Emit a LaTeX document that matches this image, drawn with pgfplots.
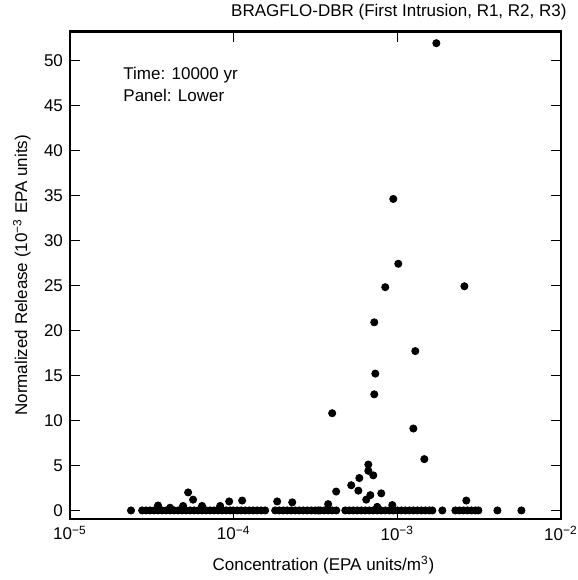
\documentclass[border=0pt]{standalone}
\usepackage{fontspec}
\setmainfont{Liberation Sans}
\usepackage{pgfplots}
\pgfplotsset{compat=1.18}
\begin{document}
\begin{tikzpicture}
\begin{axis}[
  scale only axis, width=245.5pt, height=243.75pt,
  xmode=log, log basis x=10,
  xmin=1e-5, xmax=1e-2, ymin=-0.95, ymax=53.2,
  xtick={1e-5,1e-4,1e-3,1e-2},
  xticklabels={10\textsuperscript{−5},10\textsuperscript{−4},10\textsuperscript{−3},10\textsuperscript{−2}},
  ytick={0,5,...,50},
  /pgf/number format/assume math mode=true,
  tick align=inside, major tick length=5pt, minor tick length=2.5pt,
  axis line style={line width=1.4pt},
  every tick/.style={black, line width=0.8pt},
  tick label style={font=\fontsize{8.5}{10}\selectfont},
  label style={font=\fontsize{8.5}{10}\selectfont},
  xlabel={Concentration (EPA units/m\textsuperscript{3})},
  ylabel={Normalized Release (10\textsuperscript{−3} EPA units)},
  xlabel style={at={(axis description cs:0.5,0)}, anchor=base, yshift=-25.5pt, xshift=4pt},
  ylabel style={at={(axis description cs:-0.098,0.5)}, anchor=center},
  title={BRAGFLO-DBR (First Intrusion, R1, R2, R3)},
  title style={at={(axis description cs:1,1)}, anchor=base east, xshift=6.3pt, yshift=1.5pt, font=\fontsize{8.5}{10}\selectfont},
  clip=false,
]
% points above the baseline
\addplot[only marks, mark=*, mark size=1.8pt, black] coordinates {
(1.732e-3,51.9) (9.45e-4,34.6) (1.014e-3,27.4) (8.44e-4,24.8) (2.57e-3,24.9)
(7.23e-4,20.9) (1.288e-3,17.7) (7.34e-4,15.2) (7.23e-4,12.9) (4.0e-4,10.8)
(1.253e-3,9.1) (1.462e-3,5.7) (4.23e-4,2.1) (6.65e-4,5.1) (6.65e-4,4.4)
(7.13e-4,3.9) (5.86e-4,3.6) (5.23e-4,2.8) (5.78e-4,2.2) (7.98e-4,1.9)
(6.84e-4,1.7) (6.46e-4,1.2) (3.78e-4,0.7) (9.32e-4,0.6) (7.54e-4,0.4)
(2.64e-3,1.1)
(5.27e-5,2.0) (5.65e-5,1.2) (3.45e-5,0.55) (9.39e-5,1.0) (1.127e-4,1.1)
(1.845e-4,1.0) (2.28e-4,0.9) (4.09e-5,0.3) (4.91e-5,0.5) (6.41e-5,0.5)
(8.27e-5,0.5)
};
% points on the baseline
\addplot[only marks, mark=*, mark size=1.8pt, black] coordinates {
(2.36e-5,0) (2.76e-5,0) (2.92e-5,0) (3.085e-5,0) (3.265e-5,0) (3.453e-5,0)
(3.653e-5,0) (3.866e-5,0) (4.089e-5,0) (4.326e-5,0) (4.577e-5,0) (4.842e-5,0)
(5.123e-5,0) (5.419e-5,0) (5.733e-5,0) (6.066e-5,0) (6.416e-5,0) (6.788e-5,0)
(7.182e-5,0) (7.598e-5,0) (8.038e-5,0) (8.504e-5,0) (8.997e-5,0) (9.519e-5,0)
(9.93e-5,0) (1.050e-4,0) (1.111e-4,0) (1.176e-4,0) (1.244e-4,0) (1.316e-4,0)
(1.392e-4,0) (1.473e-4,0) (1.558e-4,0) (1.794e-4,0) (1.898e-4,0) (2.008e-4,0)
(2.124e-4,0) (2.247e-4,0) (2.378e-4,0) (2.515e-4,0) (2.661e-4,0) (2.815e-4,0)
(2.979e-4,0) (3.151e-4,0) (3.287e-4,0) (3.382e-4,0) (3.578e-4,0) (3.784e-4,0)
(4.004e-4,0) (4.237e-4,0) (4.808e-4,0) (5.087e-4,0) (5.382e-4,0) (5.693e-4,0)
(6.025e-4,0) (6.374e-4,0) (6.742e-4,0) (7.134e-4,0) (7.547e-4,0) (7.984e-4,0)
(8.447e-4,0) (8.937e-4,0) (9.452e-4,0) (1.000e-3,0) (1.058e-3,0) (1.119e-3,0)
(1.184e-3,0) (1.253e-3,0) (1.326e-3,0) (1.402e-3,0) (1.484e-3,0) (1.570e-3,0)
(1.637e-3,0) (1.884e-3,0) (2.263e-3,0) (2.394e-3,0) (2.533e-3,0) (2.680e-3,0)
(2.835e-3,0) (3.000e-3,0) (3.129e-3,0) (4.089e-3,0) (5.733e-3,0)
};
\node[anchor=base west, font=\fontsize{8.5}{10}\selectfont] at (axis description cs:0,1) [xshift=23.2pt, yshift=-23.75pt] {Time: 10000 yr};
\node[anchor=base west, font=\fontsize{8.5}{10}\selectfont] at (axis description cs:0,1) [xshift=23.2pt, yshift=-34.75pt] {Panel: Lower};
\end{axis}
\pgfresetboundingbox
\path (-35pt,-30.5pt) rectangle (254pt,259.5pt);
\end{tikzpicture}
\end{document}
